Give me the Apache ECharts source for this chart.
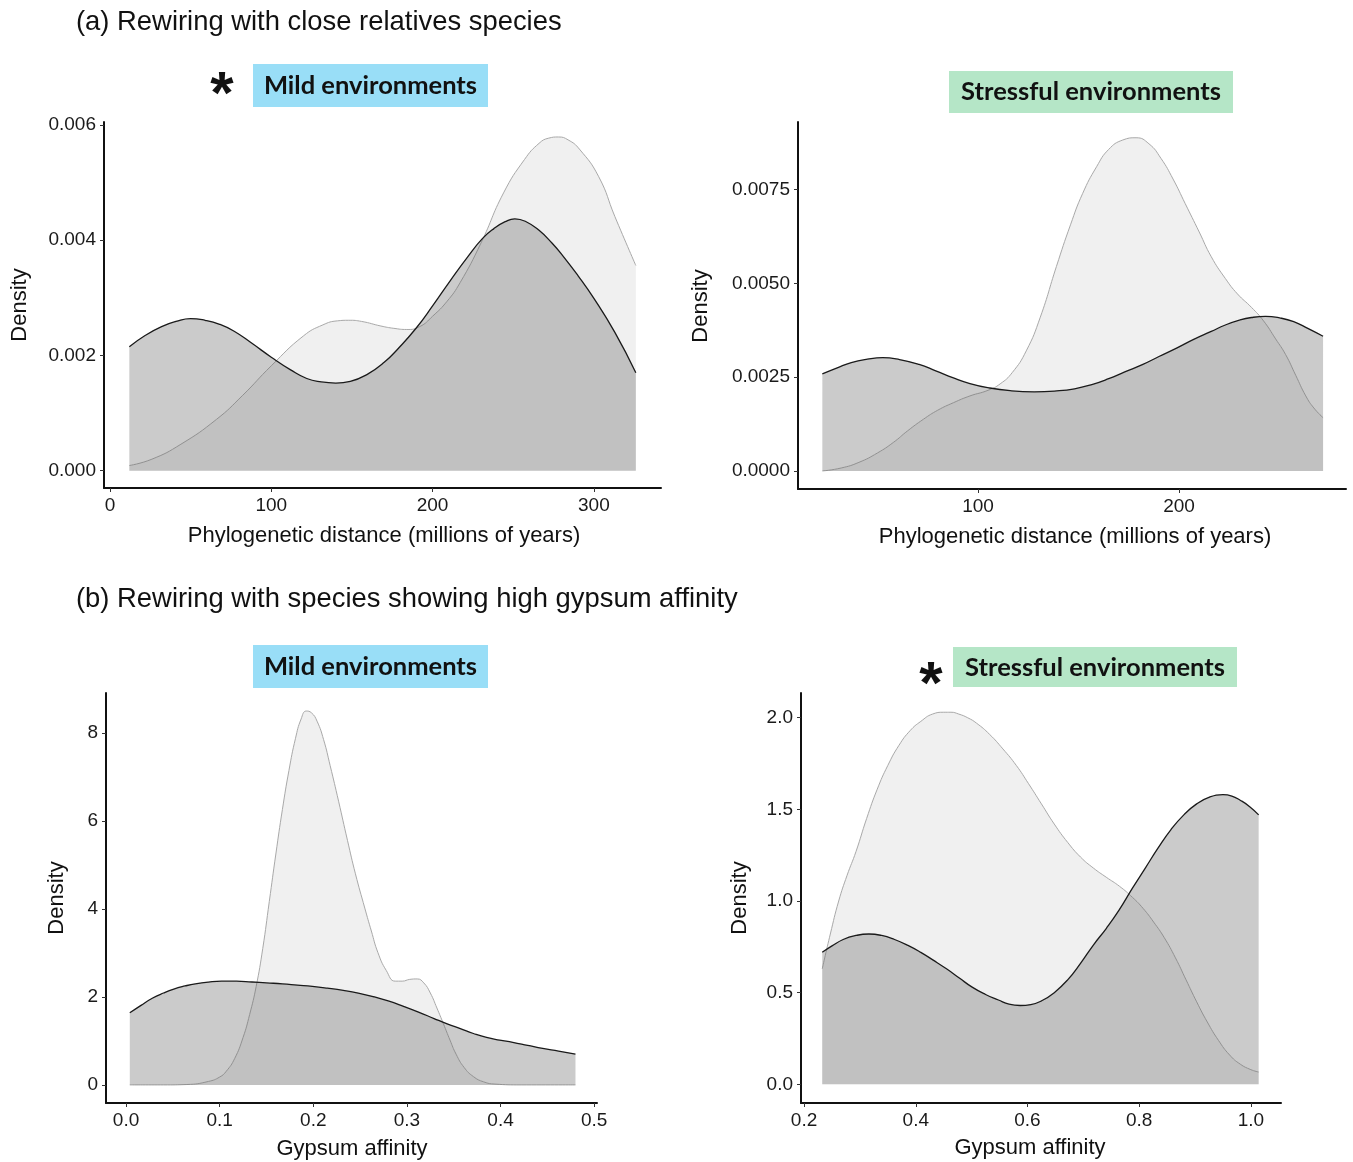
<!DOCTYPE html>
<html>
<head>
<meta charset="utf-8">
<script src="https://cdn.jsdelivr.net/npm/echarts@6/dist/echarts.min.js"></script>
<style>
  html, body { margin: 0; padding: 0; background: #ffffff; }
  #chart { width: 1353px; height: 1162px; }
</style>
</head>
<body>
<div id="chart"></div>
<script>
// ---------------- DATA ----------------
// Panel (a) Mild: phylogenetic distance densities
var aMildLight = [[12,0.00009],[26,0.0002],[44,0.00046],[66,0.00089],[82,0.0013],[100,0.00182],[120,0.00234],[132,0.00253],[141,0.0026],[148,0.00261],[156,0.00259],[168,0.00251],[176,0.00247],[184,0.00245],[192,0.0025],[200,0.00268],[209,0.00294],[217,0.00326],[230,0.00395],[244,0.00482],[257,0.0054],[266,0.00568],[272,0.00577],[278,0.00579],[284,0.00574],[291,0.00558],[303,0.0051],[313,0.00441],[326,0.00356]];
var aMildDark = [[12,0.00215],[22,0.00235],[32,0.0025],[41,0.00259],[50,0.00264],[59,0.00261],[68,0.00254],[77,0.00242],[88,0.00221],[100,0.00197],[112,0.00175],[122,0.0016],[131,0.00154],[140,0.00152],[149,0.00155],[160,0.00168],[170,0.00188],[179,0.00213],[190,0.00248],[200,0.00286],[211,0.0033],[222,0.00372],[231,0.00403],[238,0.0042],[245,0.00432],[251,0.00437],[258,0.00432],[266,0.00417],[274,0.00395],[281,0.00372],[290,0.00339],[300,0.00299],[313,0.0024],[326,0.0017]];
// Panel (a) Stressful
var aStressLight = [[22.6,0],[32,0.00008],[40.8,0.00023],[50,0.00048],[57.9,0.00076],[65,0.00107],[72.9,0.00138],[80,0.00162],[87.8,0.00182],[96,0.002],[105,0.00215],[111,0.00232],[117,0.00262],[124,0.0032],[131,0.0041],[139,0.00545],[146,0.00656],[152,0.00739],[159,0.00811],[165,0.00857],[172,0.00882],[178.6,0.00888],[185,0.00872],[191,0.00833],[197,0.00778],[203,0.00713],[210,0.00637],[216,0.00571],[223,0.00513],[229,0.00472],[236,0.00436],[242,0.004],[248,0.00352],[253,0.0031],[258,0.00255],[263,0.002],[267,0.00168],[271.6,0.00142]];
var aStressDark = [[22.6,0.00259],[30,0.00275],[37,0.00289],[45,0.00298],[52.6,0.00302],[61,0.00297],[70.7,0.00284],[79,0.00267],[87.8,0.00248],[96,0.00233],[105,0.00222],[116,0.00214],[128,0.00211],[138,0.00213],[148,0.00219],[157,0.00231],[165,0.00246],[173,0.00264],[182,0.00284],[190,0.00305],[199,0.00328],[207,0.0035],[216,0.00372],[223,0.00389],[230,0.00402],[236,0.00409],[243,0.00412],[250,0.00408],[257,0.00398],[264,0.0038],[271.6,0.00359]];
// Panel (b) Mild: gypsum affinity densities
var bMildLight = [[0.004,0],[0.04,0],[0.065,0.01],[0.088,0.08],[0.1,0.18],[0.107,0.31],[0.116,0.6],[0.125,1.08],[0.132,1.6],[0.139,2.24],[0.146,3.1],[0.153,4.17],[0.16,5.25],[0.167,6.26],[0.174,7.15],[0.181,7.88],[0.187,8.32],[0.1925,8.5],[0.198,8.46],[0.204,8.27],[0.211,7.85],[0.218,7.26],[0.227,6.45],[0.2365,5.56],[0.245,4.8],[0.255,4.02],[0.262,3.5],[0.269,3.01],[0.278,2.6],[0.2875,2.36],[0.295,2.36],[0.303,2.4],[0.311,2.41],[0.318,2.32],[0.325,2.09],[0.332,1.75],[0.339,1.39],[0.346,1.02],[0.3525,0.7],[0.361,0.4],[0.371,0.19],[0.382,0.07],[0.394,0.02],[0.422,0],[0.48,0]];
var bMildDark = [[0.004,1.64],[0.016,1.81],[0.028,1.97],[0.04,2.09],[0.051,2.18],[0.063,2.25],[0.074,2.3],[0.088,2.34],[0.102,2.36],[0.118,2.36],[0.1345,2.34],[0.15,2.32],[0.167,2.3],[0.183,2.27],[0.199,2.24],[0.215,2.2],[0.232,2.15],[0.248,2.09],[0.264,2.01],[0.28,1.91],[0.297,1.78],[0.313,1.65],[0.329,1.51],[0.343,1.39],[0.357,1.28],[0.371,1.17],[0.385,1.08],[0.399,1.02],[0.413,0.97],[0.429,0.9],[0.445,0.83],[0.462,0.77],[0.48,0.7]];
// Panel (b) Stressful
var bStressLight = [[0.2325,0.63],[0.247,0.82],[0.262,1.0],[0.277,1.14],[0.293,1.27],[0.312,1.45],[0.331,1.61],[0.35,1.74],[0.37,1.85],[0.39,1.93],[0.409,1.98],[0.43,2.02],[0.45,2.03],[0.463,2.03],[0.477,2.02],[0.493,2.0],[0.509,1.97],[0.532,1.91],[0.556,1.83],[0.58,1.74],[0.602,1.64],[0.625,1.53],[0.648,1.42],[0.672,1.32],[0.695,1.24],[0.718,1.18],[0.741,1.13],[0.765,1.08],[0.788,1.02],[0.807,0.96],[0.826,0.885],[0.845,0.8],[0.865,0.69],[0.884,0.57],[0.903,0.45],[0.922,0.34],[0.942,0.24],[0.962,0.16],[0.981,0.11],[1.0,0.08],[1.014,0.067]];
var bStressDark = [[0.2325,0.72],[0.25,0.755],[0.27,0.79],[0.293,0.812],[0.316,0.82],[0.339,0.812],[0.362,0.79],[0.386,0.758],[0.409,0.72],[0.432,0.676],[0.455,0.63],[0.478,0.58],[0.501,0.53],[0.525,0.49],[0.548,0.46],[0.567,0.437],[0.587,0.43],[0.606,0.435],[0.625,0.455],[0.648,0.5],[0.672,0.57],[0.695,0.66],[0.718,0.76],[0.741,0.85],[0.764,0.95],[0.788,1.07],[0.811,1.18],[0.834,1.29],[0.857,1.39],[0.88,1.47],[0.903,1.53],[0.926,1.567],[0.95,1.58],[0.966,1.573],[0.981,1.55],[0.998,1.515],[1.014,1.47]];

// Tick values
var aMildXTicks = [0, 100, 200, 300];
var aMildYTicks = [0, 0.002, 0.004, 0.006];
var aStressXTicks = [100, 200];
var aStressYTicks = [0, 0.0025, 0.005, 0.0075];
var bMildXTicks = [0, 0.1, 0.2, 0.3, 0.4, 0.5];
var bMildYTicks = [0, 2, 4, 6, 8];
var bStressXTicks = [0.2, 0.4, 0.6, 0.8, 1.0];
var bStressYTicks = [0, 0.5, 1.0, 1.5, 2.0];

// Texts
var titleA = '(a) Rewiring with close relatives species';
var titleB = '(b) Rewiring with species showing high gypsum affinity';
var mildLabel = 'Mild environments';
var stressLabel = 'Stressful environments';
var yTitle = 'Density';
var xTitleA = 'Phylogenetic distance (millions of years)';
var xTitleB = 'Gypsum affinity';

// ---------------- CHART ----------------
var FONT = '"Liberation Sans", Arial, Helvetica, sans-serif';
var chart = echarts.init(document.getElementById('chart'), null, {renderer: 'canvas'});

var grids = [
  {left: 104, top: 122, width: 557, height: 366},
  {left: 798, top: 122, width: 548, height: 367},
  {left: 106, top: 693, width: 491, height: 410},
  {left: 801, top: 693, width: 480, height: 410}
];
var xr = [[-3.7, 341.6], [10.5, 283], [-0.0214, 0.503], [0.1945, 1.054]];
var yr = [[-0.0003, 0.00605], [-0.00048, 0.0093], [-0.41, 8.91], [-0.102, 2.135]];
var xt = [aMildXTicks, aStressXTicks, bMildXTicks, bStressXTicks];
var yt = [aMildYTicks, aStressYTicks, bMildYTicks, bStressYTicks];
var xfmt = [function(v){return String(Math.round(v));}, function(v){return String(Math.round(v));}, function(v){return v.toFixed(1);}, function(v){return v.toFixed(1);}];
var yfmt = [function(v){return v.toFixed(3);}, function(v){return v.toFixed(4);}, function(v){return String(Math.round(v));}, function(v){return v.toFixed(1);}];

function axisCommon() {
  return {
    axisLine: {show: true, onZero: false, lineStyle: {color: '#111', width: 2}},
    splitLine: {show: false}
  };
}

var xAxes = [], yAxes = [];
for (var i = 0; i < 4; i++) {
  var xa = axisCommon();
  xa.type = 'value'; xa.gridIndex = i; xa.min = xr[i][0]; xa.max = xr[i][1];
  xa.axisTick = {show: true, length: 4, lineStyle: {color: '#333', width: 1}, customValues: xt[i]};
  xa.axisLabel = {show: true, customValues: xt[i], formatter: xfmt[i], color: '#1a1a1a', fontSize: 19, fontFamily: FONT, margin: 8};
  xAxes.push(xa);
  var ya = axisCommon();
  ya.type = 'value'; ya.gridIndex = i; ya.min = yr[i][0]; ya.max = yr[i][1];
  ya.axisTick = {show: true, length: 4, lineStyle: {color: '#333', width: 1}, customValues: yt[i]};
  ya.axisLabel = {show: true, customValues: yt[i], formatter: yfmt[i], color: '#1a1a1a', fontSize: 19, fontFamily: FONT, margin: 8};
  yAxes.push(ya);
}

var panels = [[aMildLight, aMildDark], [aStressLight, aStressDark], [bMildLight, bMildDark], [bStressLight, bStressDark]];
var series = [];
panels.forEach(function(p, i) {
  series.push({
    type: 'line', xAxisIndex: i, yAxisIndex: i, data: p[0],
    smooth: 0.5, showSymbol: false, symbol: 'none',
    lineStyle: {color: '#a9a9a9', width: 1},
    areaStyle: {color: '#f0f0f0', opacity: 1},
    silent: true, z: 2
  });
  series.push({
    type: 'line', xAxisIndex: i, yAxisIndex: i, data: p[1],
    smooth: 0.5, showSymbol: false, symbol: 'none',
    lineStyle: {color: '#1a1a1a', width: 1.3},
    areaStyle: {color: 'rgba(96,96,96,0.33)', opacity: 1},
    silent: true, z: 3
  });
});

function txt(text, x, y, size, opts) {
  opts = opts || {};
  return {
    type: 'text', x: x, y: y, rotation: opts.rotation || 0, z: 10, silent: true,
    style: {
      text: text, x: 0, y: 0,
      fill: opts.fill || '#111',
      fontSize: size, fontFamily: opts.family || FONT, fontWeight: opts.weight || 'normal',
      align: opts.align || 'center', verticalAlign: 'middle',
      textAlign: opts.align || 'center', textVerticalAlign: 'middle',
      shadowColor: opts.shadow ? 'rgba(0,0,0,0.4)' : 'transparent',
      shadowBlur: opts.shadow ? 3 : 0, shadowOffsetX: opts.shadow ? 1.5 : 0, shadowOffsetY: opts.shadow ? 1.5 : 0
    }
  };
}
function box(x1, y1, x2, y2, color) {
  return {type: 'rect', shape: {x: x1, y: y1, width: x2 - x1, height: y2 - y1}, style: {fill: color}, z: 9, silent: true};
}
var BLUE = '#99def7', GREEN = '#b5e6c7';
var LAB = 'Lato, "Open Sans", sans-serif';
var graphics = [
  txt(titleA, 76, 22, 27.4, {align: 'left'}),
  txt(titleB, 76, 599, 27.4, {align: 'left'}),
  box(253, 64, 488, 107, BLUE),
  txt(mildLabel, 370.5, 86, 25.5, {weight: 'bold', family: LAB, shadow: true}),
  txt('*', 222, 96, 60, {weight: 'bold'}),
  box(949, 71, 1233, 113, GREEN),
  txt(stressLabel, 1091, 92, 25.5, {weight: 'bold', family: LAB, shadow: true}),
  box(253, 645, 488, 688, BLUE),
  txt(mildLabel, 370.5, 667, 25.5, {weight: 'bold', family: LAB, shadow: true}),
  box(953, 647, 1237, 687, GREEN),
  txt(stressLabel, 1095, 668, 25.5, {weight: 'bold', family: LAB, shadow: true}),
  txt('*', 931, 686, 60, {weight: 'bold'}),
  txt(yTitle, 20, 305, 22, {rotation: Math.PI / 2}),
  txt(yTitle, 701, 306, 22, {rotation: Math.PI / 2}),
  txt(yTitle, 57, 898, 22, {rotation: Math.PI / 2}),
  txt(yTitle, 740, 898, 22, {rotation: Math.PI / 2}),
  txt(xTitleA, 384, 536, 22),
  txt(xTitleA, 1075, 537, 22),
  txt(xTitleB, 352, 1149, 22),
  txt(xTitleB, 1030, 1148, 22)
];

chart.setOption({
  animation: false,
  backgroundColor: '#ffffff',
  grid: grids,
  xAxis: xAxes,
  yAxis: yAxes,
  series: series,
  graphic: graphics
});
</script>
</body>
</html>
